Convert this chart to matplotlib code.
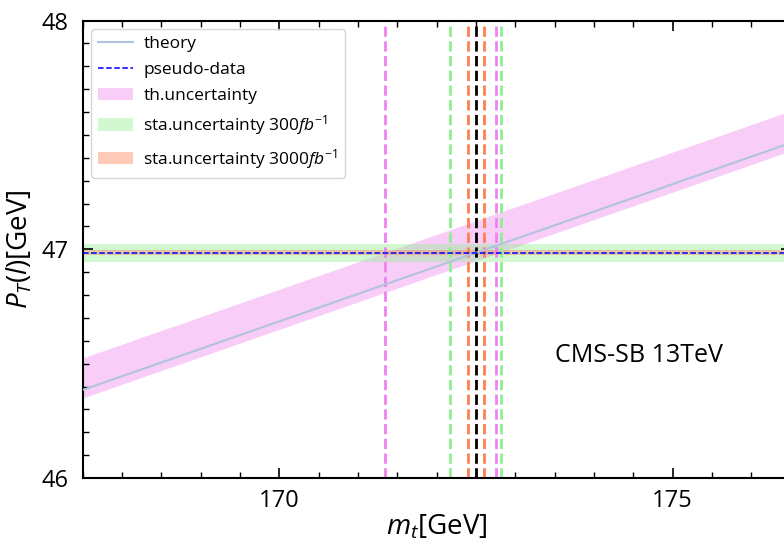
import numpy as np
import matplotlib
matplotlib.use('Agg')
import matplotlib.pyplot as plt
from matplotlib.ticker import MultipleLocator

plt.rcParams['font.family'] = ['Open Sans', 'DejaVu Sans']
plt.rcParams['mathtext.fontset'] = 'custom'
plt.rcParams['mathtext.rm'] = 'Open Sans'
plt.rcParams['mathtext.it'] = 'Open Sans:italic'

# theory prediction of P_T(l) vs top mass
mt = np.array([167.5, 172.5, 176.5])
pt_theory = np.array([46.385, 46.985, 47.465])
th_up = np.array([0.14, 0.14, 0.14])
th_down = np.array([0.035, 0.035, 0.035])

# pseudo-data and statistical errors
pt_data = 46.985
sta_300 = 0.04
sta_3000 = 0.012

# extracted top mass and its intervals
mt_best = 172.5
mt_th = [171.34, 172.75]
mt_300 = [172.17, 172.82]
mt_3000 = [172.40, 172.60]

fig = plt.figure(figsize=(7.84, 5.48), dpi=100)
ax = fig.add_axes([0.1055, 0.1277, 0.903, 0.8348])

ax.plot(mt, pt_theory, color='lightsteelblue', lw=1.5, label='theory', zorder=3)
ax.axhline(pt_data, color='blue', ls='--', lw=1.1, label='pseudo-data', zorder=4)
ax.fill_between(mt, pt_theory - th_down, pt_theory + th_up, color='violet', alpha=0.4,
                lw=0, label='th.uncertainty')
ax.axhspan(pt_data - sta_300, pt_data + sta_300, color='lightgreen', alpha=0.4, lw=0,
           label=r'sta.uncertainty 300$fb^{-1}$')
ax.axhspan(pt_data - sta_3000, pt_data + sta_3000, color='coral', alpha=0.4, lw=0,
           label=r'sta.uncertainty 3000$fb^{-1}$')

for v in mt_th:
    ax.axvline(v, color='violet', ls='--', lw=2)
for v in mt_300:
    ax.axvline(v, color='lightgreen', ls='--', lw=2)
for v in mt_3000:
    ax.axvline(v, color='coral', ls='--', lw=2)
ax.axvline(mt_best, color='black', ls='--', lw=2)

ax.text(173.5, 46.535, 'CMS-SB 13TeV', fontsize=18, va='center')

ax.set_xlim(167.5, 176.5)
ax.set_ylim(46, 48)
ax.xaxis.set_major_locator(MultipleLocator(5))
ax.xaxis.set_minor_locator(MultipleLocator(0.5))
ax.yaxis.set_major_locator(MultipleLocator(1))
ax.yaxis.set_minor_locator(MultipleLocator(0.1))
ax.tick_params(which='both', direction='in', top=True, right=True, labelsize=17)
ax.tick_params(which='major', length=7, width=1.2)
ax.tick_params(axis='y', pad=10)
ax.tick_params(axis='x', pad=8)
ax.tick_params(which='minor', length=4, width=1)
for s in ax.spines.values():
    s.set_linewidth(1.5)

ax.set_xlabel(r'$m_t$[GeV]', fontsize=20, labelpad=0)
ax.set_ylabel(r'$P_T(l)$[GeV]', fontsize=20, labelpad=5)

ax.legend(loc='upper left', fontsize=12.5, handlelength=2.0, handletextpad=0.6,
          labelspacing=0.55, borderaxespad=0.5)

fig.savefig('out.png', dpi=100)
